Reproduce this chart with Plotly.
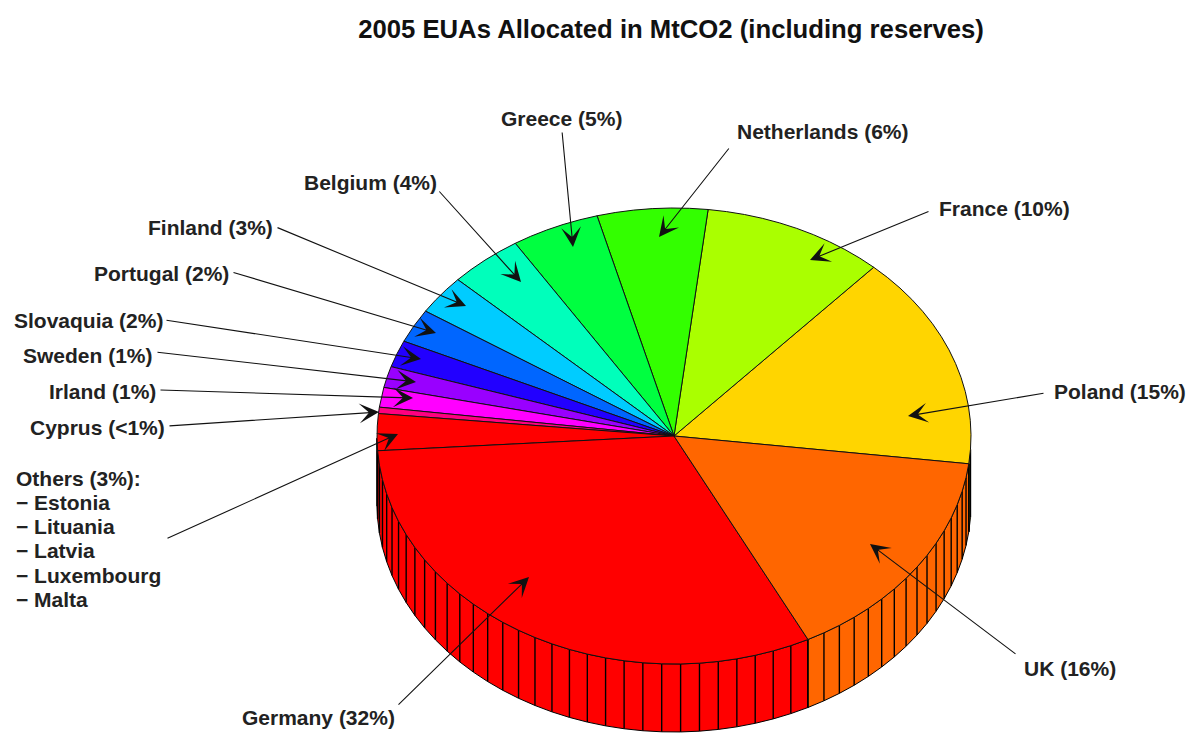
import math
import plotly.graph_objects as go

# Data, counter-clockwise from the Poland/UK boundary
countries = ["Poland", "France", "Netherlands", "Greece", "Belgium", "Finland", "Portugal",
             "Slovaquia", "Sweden", "Irland", "Cyprus", "Others", "Germany", "UK"]
shares = [15.2, 9.9, 6.0, 4.8, 4.0, 2.8, 2.4, 1.9, 1.5, 1.4, 0.45, 2.6, 31.4, 15.6]
colors = ["#FFD500", "#AAFF00", "#33FF00", "#00FF40", "#00FFBB", "#00CCFF", "#0066FF",
          "#2200FF", "#9900FF", "#FF00FF", "#FF0080", "#FF0000", "#FF0000", "#FF6600"]
title_text = "2005 EUAs Allocated in MtCO2 (including reserves)"

# Label text, centre position
labels = [
    ("Poland (15%)", 1120, 391), ("France (10%)", 1004, 208), ("Netherlands (6%)", 823, 131),
    ("Greece (5%)", 561, 118), ("Belgium (4%)", 370, 182), ("Finland (3%)", 210, 227),
    ("Portugal (2%)", 161, 273), ("Slovaquia (2%)", 88, 320), ("Sweden (1%)", 88, 355),
    ("Irland (1%)", 102, 391), ("Cyprus (<1%)", 97, 427), ("UK (16%)", 1070, 668),
    ("Germany (32%)", 318, 717),
]
others_lines = ["Others (3%):", "− Estonia", "− Lituania", "− Latvia", "− Luxembourg", "− Malta"]
others_y = [478, 502, 526, 550, 575, 599]

# Arrows: tail x, tail y, tip x, tip y
arrows = [
    (1045, 393, 908, 416), (930, 211, 810, 260), (730, 147, 659, 237), (562, 131, 573, 247),
    (438, 190, 521, 282), (276, 227, 466, 306), (232, 272, 436, 333), (165, 320, 421, 359),
    (156, 352, 416, 382), (159, 390, 413, 398), (168, 426, 379, 412), (166, 539, 398, 434),
    (1017, 655, 870, 544), (397, 706, 529, 577),
]

# Drawing geometry
CX, CY, RX, RY, DEPTH = 674, 436, 297, 228, 68
START = -7.0
FACET = 3.6
W, H = 1191, 733


def px(t):
    return CX + RX * math.cos(math.radians(t))


def py(t):
    return CY - RY * math.sin(math.radians(t))


def arc(a, b):
    n = max(1, round((b - a) / FACET))
    return [a + (b - a) * i / n for i in range(n + 1)]


total = sum(shares)
edges = [START]
for v in shares:
    edges.append(edges[-1] + 360 * v / total)

fig = go.Figure()

# Side walls (only the front half, where sin < 0)
for name, c, a, b in zip(countries, colors, edges[:-1], edges[1:]):
    ts = arc(a, b)
    vis = [t for t in ts if math.sin(math.radians(t)) <= 1e-9]
    if len(vis) < 2:
        continue
    xs = [px(t) for t in vis] + [px(t) for t in reversed(vis)] + [px(vis[0])]
    ys = [py(t) for t in vis] + [py(t) + DEPTH for t in reversed(vis)] + [py(vis[0])]
    fig.add_trace(go.Scatter(x=xs, y=ys, mode="lines", fill="toself", fillcolor=c,
                             line=dict(color="black", width=1), hoverinfo="skip", showlegend=False))
    sx, sy = [], []
    for t in vis:
        sx += [px(t), px(t), None]
        sy += [py(t), py(t) + DEPTH, None]
    fig.add_trace(go.Scatter(x=sx, y=sy, mode="lines", line=dict(color="black", width=1.4),
                             hoverinfo="skip", showlegend=False))

# Top face
for name, v, c, a, b in zip(countries, shares, colors, edges[:-1], edges[1:]):
    ts = arc(a, b)
    xs = [CX] + [px(t) for t in ts] + [CX]
    ys = [CY] + [py(t) for t in ts] + [CY]
    fig.add_trace(go.Scatter(x=xs, y=ys, mode="lines", fill="toself", fillcolor=c, name=name,
                             line=dict(color="#111111", width=1), hoverinfo="name", showlegend=False))

ann = []
font = dict(family="Liberation Sans, Arial, sans-serif", size=21, color="#222222")
for text, x, y in labels:
    ann.append(dict(x=x, y=y, xref="x", yref="y", text="<b>%s</b>" % text.replace("<", "&lt;"),
                    showarrow=False, xanchor="center", yanchor="middle", font=font))
for text, y in zip(others_lines, others_y):
    ann.append(dict(x=14, y=y, xref="x", yref="y", text="<b>%s</b>" % text, showarrow=False,
                    xanchor="left", yanchor="middle", font=font))
for x0, y0, x1, y1 in arrows:
    ann.append(dict(x=x1, y=y1, ax=x0, ay=y0, xref="x", yref="y", axref="x", ayref="y", text="",
                    showarrow=True, arrowhead=3, arrowsize=3.0, arrowwidth=1.1, arrowcolor="#111111"))

fig.update_layout(
    width=W, height=H, margin=dict(l=0, r=0, t=0, b=0),
    paper_bgcolor="white", plot_bgcolor="white", showlegend=False,
    xaxis=dict(range=[0, W], visible=False, fixedrange=True),
    yaxis=dict(range=[H, 0], visible=False, fixedrange=True),
    title=dict(text="<b>%s</b>" % title_text, x=671 / W, y=1 - 29 / H,
               xanchor="center", yanchor="middle",
               font=dict(family="Liberation Sans, Arial, sans-serif", size=25.7, color="#111111")),
    annotations=ann,
)
fig.write_html("out.html", config={"displayModeBar": False},
               post_script="document.body.style.margin='0';document.documentElement.style.overflow='hidden';")
